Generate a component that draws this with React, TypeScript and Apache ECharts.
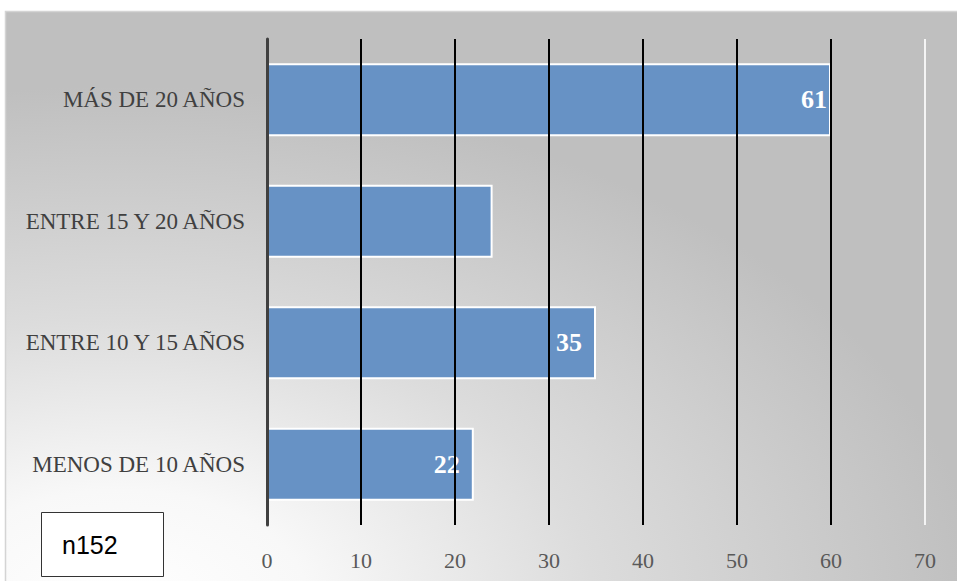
import React, { useEffect, useRef } from "react";
import * as echarts from "echarts";

const categories = ["MENOS DE 10 AÑOS", "ENTRE 10 Y 15 AÑOS", "ENTRE 15 Y 20 AÑOS", "MÁS DE 20 AÑOS"];
const values = [22, 35, 24, 60];
const valueLabels = ["22", "35", "", "61"];
const xTicks = { min: 0, max: 70, interval: 10 };
const noteText = "n152";

export default function App() {
  const ref = useRef<HTMLDivElement>(null);
  useEffect(() => {
    if (!ref.current) return;
    const chart = echarts.init(ref.current, null, { renderer: "svg" });
    const bg = new echarts.graphic.RadialGradient(0.12, 1.03, 0.9, [
      { offset: 0, color: "#ffffff" },
      { offset: 0.22, color: "#f8f8f8" },
      { offset: 0.55, color: "#dcdcdc" },
      { offset: 1, color: "#bfbfbf" },
    ]);
    chart.setOption({
      animation: false,
      backgroundColor: "#ffffff",
      graphic: [
        {
          type: "rect",
          z: -10,
          shape: { x: 5.5, y: 11.5, width: 955, height: 575 },
          style: { fill: bg, stroke: "#d4d4d4", lineWidth: 1.5 },
        },
        {
          type: "rect",
          zlevel: 2,
          z: 20,
          shape: { x: 41.5, y: 512.5, width: 122, height: 64 },
          style: { fill: "#ffffff", stroke: "#333333", lineWidth: 1 },
        },
        {
          type: "text",
          zlevel: 2,
          z: 21,
          x: 62,
          y: 545,
          style: {
            text: noteText,
            font: "25px 'Liberation Sans', sans-serif",
            fill: "#000000",
            verticalAlign: "middle",
            align: "left",
          },
        },
      ],
      grid: { left: 267, right: 32, top: 39, bottom: 56, containLabel: false },
      xAxis: {
        type: "value",
        min: xTicks.min,
        max: xTicks.max,
        interval: xTicks.interval,
        zlevel: 1,
        z: 5,
        axisLine: { show: false },
        axisTick: { show: false },
        axisLabel: {
          margin: 24,
          color: "#595959",
          fontFamily: "'Liberation Serif', serif",
          fontSize: 22,
        },
        splitLine: {
          show: true,
          lineStyle: {
            color: ["#000000", "#000000", "#000000", "#000000", "#000000", "#000000", "#000000", "#f4f4f4"],
            width: 2,
          },
        },
      },
      yAxis: {
        type: "category",
        data: categories,
        zlevel: 1,
        z: 6,
        axisLine: { show: true, lineStyle: { color: "#404040", width: 3 } },
        axisTick: { show: false },
        axisLabel: {
          margin: 22,
          color: "#404040",
          fontFamily: "'Liberation Serif', serif",
          fontSize: 23,
        },
        splitLine: { show: false },
      },
      series: [
        {
          type: "bar",
          barWidth: "60%",
          z: 2,
          data: values.map((v, i) => ({
            value: v,
            label: {
              show: valueLabels[i] !== "",
              position: "insideRight",
              distance: i === 3 ? 4 : 14,
              formatter: () => valueLabels[i],
            },
          })),
          itemStyle: { color: "#6792c5", borderColor: "#ffffff", borderWidth: 2 },
          label: {
            color: "#ffffff",
            fontFamily: "'Liberation Serif', serif",
            fontWeight: "bold",
            fontSize: 26,
          },
        },
      ],
    });
    return () => chart.dispose();
  }, []);
  return (
    <div
      ref={ref}
      style={{ position: "absolute", left: 0, top: 0, width: 957, height: 581 }}
    />
  );
}
